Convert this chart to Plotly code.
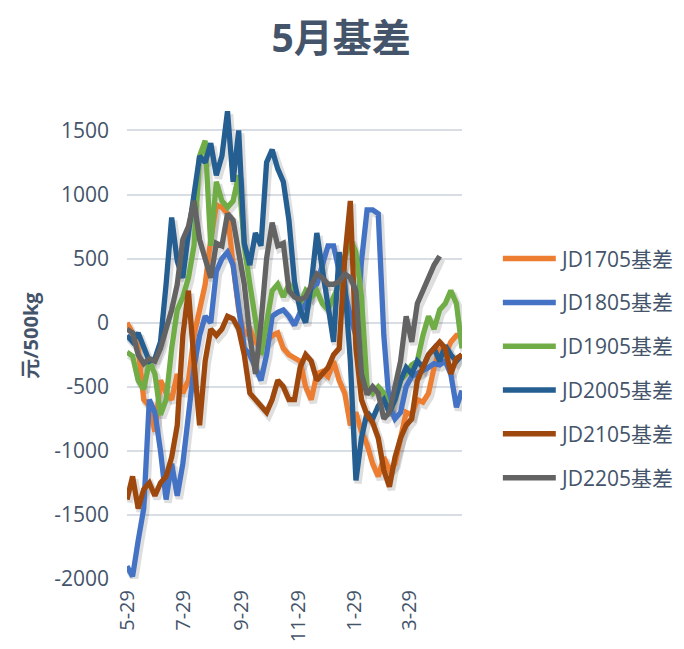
import plotly.graph_objects as go
import pandas as pd

# ---- data (one value every 6 days from 5-29) ----
dates = pd.date_range("2016-05-29", periods=61, freq="6D")

tick_dates = ["2016-05-29", "2016-07-29", "2016-09-29", "2016-11-29", "2017-01-29", "2017-03-29"]
tick_labels = ["5-29", "7-29", "9-29", "11-29", "1-29", "3-29"]
y_ticks = [-2000, -1500, -1000, -500, 0, 500, 1000, 1500]
y_tick_labels = ["-2000", "-1500", "-1000", "-500", "0", "500", "1000", "1500"]

jd1705 = [0, -80, -200, -600, -650, -850, -450, -550, -600, -400, -550, -450, -100, 100, 300, 650,
          920, 900, 850, 450, 100, -100, -50, -150, -200, -150, -100, -80, -200, -250, -280, -300,
          -500, -600, -400, -380, -420, -300, -450, -550, -800, -700, -850, -950, -1100, -1200,
          -1050, -1150, -1100, -900, -700, -720, -600, -620, -550, -350, -200, -250, -150, -100, -100]

jd1805 = [-1900, -1980, -1700, -1450, -600, -700, -1000, -1380, -1100, -1350, -1100, -700, -350,
          -100, 50, 0, 400, 500, 550, 450, 100, -200, -250, -350, -450, -250, 50, 80, 100, 50, -20,
          80, 150, 250, 300, 450, 600, 600, 400, 250, 50, -100, 480, 880, 880, 850, -100, -650,
          -750, -700, -500, -420, -400, -380, -350, -320, -330, -300, -400, -660, -530]

jd1905 = [-230, -260, -450, -520, -300, -400, -720, -600, -200, 100, 200, 350, 600, 1300, 1420,
          600, 1100, 950, 900, 950, 1150, 600, 300, 0, -250, 0, 250, 300, 200, 300, 250, 150, 250,
          200, 250, 150, 100, 200, 300, 500, 650, 550, 200, -500, -550, -500, -550, -700, -600,
          -450, -400, -330, -300, -100, 50, -50, 100, 150, 250, 150, -200]

jd2005 = [-100, -150, -80, -200, -300, -280, -150, 300, 820, 480, 350, 700, 1000, 1300, 1250,
          1400, 1150, 1300, 1650, 1100, 1500, 620, 450, 700, 600, 1250, 1350, 1200, 1100, 800,
          320, 100, 0, 300, 700, 400, 100, -150, 550, 300, -300, -1230, -900, -700, -750, -650,
          -600, -700, -600, -450, -350, -400, -300, -350, -250, -200, -300, -180, -250, -300, -250]

jd2105 = [-1380, -1200, -1450, -1300, -1250, -1350, -1250, -1200, -1050, -800, -100, 250, -300,
          -800, -300, -50, -100, -50, 50, 30, -50, -250, -550, -600, -650, -700, -600, -450, -500,
          -600, -600, -350, -250, -300, -450, -400, -350, -250, -200, 500, 950, -200, -600, -720,
          -780, -900, -1150, -1280, -1050, -900, -800, -750, -450, -350, -250, -200, -150, -200,
          -400, -280, -250]

jd2205 = [-50, -80, -250, -320, -280, -300, -200, -50, 100, 300, 650, 750, 950, 650, 500, 350,
          620, 600, 850, 800, 550, 300, -100, -400, 0, 500, 780, 600, 620, 250, 200, 180, 200, 300,
          380, 350, 300, 300, 320, 380, 350, 250, -400, -560, -500, -550, -750, -700, -500, -300,
          50, -150, 150, 250, 350, 450, 520, None, None, None, None]

series_names = ["JD1705基差", "JD1805基差", "JD1905基差", "JD2005基差", "JD2105基差", "JD2205基差"]
series_values = [jd1705, jd1805, jd1905, jd2005, jd2105, jd2205]
series_colors = ["#ED7D31", "#4472C4", "#70AD47", "#255E91", "#9E480E", "#636363"]

FONT = "Open Sans, Noto Sans CJK SC, sans-serif"
TXT = "#44546A"

Y_MIN, Y_MAX = -2000, 1800
X0, X1 = dates[0], dates[-1]
# soft drop shadow: same data drawn on an overlay axis pair offset by a few pixels
SH_DAYS = pd.Timedelta(hours=52)   # ~2 px to the right
SH_Y = 24                           # ~3 px down

fig = go.Figure()
# base axes hold a dummy invisible trace so grid/ticks render
fig.add_trace(go.Scatter(x=[X0, X1], y=[None, None], mode="lines", showlegend=False,
                         hoverinfo="skip", xaxis="x", yaxis="y"))
for vals in series_values:
    fig.add_trace(go.Scatter(
        x=dates, y=vals, mode="lines", showlegend=False, hoverinfo="skip",
        line=dict(color="rgba(0,0,0,0.13)", width=7.5),
        xaxis="x2", yaxis="y2",
    ))
for name, vals, col in zip(series_names, series_values, series_colors):
    fig.add_trace(go.Scatter(
        x=dates, y=vals, name=name, mode="lines", showlegend=False,
        line=dict(color=col, width=5.3),
        xaxis="x3", yaxis="y3",
    ))

# custom legend (long samples, like the reference)
legend_y = [0.658, 0.568, 0.478, 0.388, 0.298, 0.208]
shapes = []
annotations = []
for name, col, ly in zip(series_names, series_colors, legend_y):
    shapes.append(dict(type="line", xref="paper", yref="paper", x0=1.122, x1=1.28, y0=ly, y1=ly,
                       line=dict(color=col, width=5.5)))
    annotations.append(dict(text=name, xref="paper", yref="paper", x=1.287, y=ly,
                            xanchor="left", yanchor="middle", showarrow=False,
                            font=dict(family=FONT, size=21, color=TXT)))

fig.update_layout(
    width=684, height=649,
    margin=dict(l=119, r=230, t=83.5, b=78),
    paper_bgcolor="white", plot_bgcolor="white",
    title=dict(text="<b>5月基差</b>", x=0.487, xref="container", xanchor="center",
               y=0.953, yref="container", yanchor="middle",
               font=dict(family=FONT, size=39, color=TXT)),
    showlegend=False,
    shapes=shapes, annotations=annotations,
    font=dict(family=FONT, color=TXT),
    xaxis=dict(range=[X0, X1], tickvals=tick_dates, ticktext=tick_labels, tickangle=-90,
               tickfont=dict(family=FONT, size=20, color=TXT), ticklabelstandoff=6,
               showgrid=False, zeroline=False, showline=False, ticks=""),
    yaxis=dict(range=[Y_MIN, Y_MAX], tickvals=y_ticks, ticktext=y_tick_labels,
               tickfont=dict(family=FONT, size=21, color=TXT),
               showgrid=True, gridcolor="#D9DEE4", gridwidth=1.5,
               zeroline=False, showline=False, ticks="", ticklabelstandoff=17,
               title=dict(text="<b>元/500kg</b>", font=dict(family=FONT, size=20, color=TXT),
                          standoff=10)),
    xaxis2=dict(overlaying="x", range=[X0 - SH_DAYS, X1 - SH_DAYS], visible=False),
    yaxis2=dict(overlaying="y", range=[Y_MIN + SH_Y, Y_MAX + SH_Y], visible=False),
    xaxis3=dict(overlaying="x", range=[X0, X1], visible=False),
    yaxis3=dict(overlaying="y", range=[Y_MIN, Y_MAX], visible=False),
)

fig.write_html("out.html")
